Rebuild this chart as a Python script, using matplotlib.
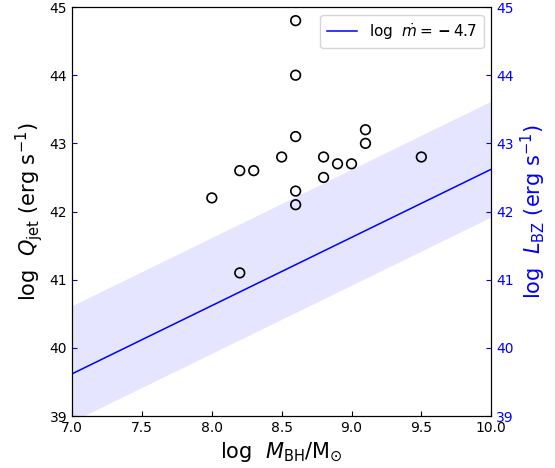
import numpy as np
import matplotlib
matplotlib.use("Agg")
import matplotlib.pyplot as plt

# ── data ────────────────────────────────────────────────────────────────────
log_mbh = [8.0, 8.2, 8.2, 8.3, 8.5, 8.6, 8.6, 8.6, 8.6, 8.6,
           8.8, 8.8, 8.9, 9.0, 9.1, 9.1, 9.5]
log_qjet = [42.2, 42.6, 41.1, 42.6, 42.8, 44.8, 44.0, 43.1, 42.3, 42.1,
            42.8, 42.5, 42.7, 42.7, 43.2, 43.0, 42.8]

# BZ power line for log mdot = -4.7 and its band
line_x = [7.0, 10.0]
line_y = [39.62, 42.62]
band_lo = [38.92, 41.92]
band_hi = [40.62, 43.62]

fig = plt.figure(figsize=(5.55, 4.68), dpi=100)
ax = fig.add_axes([0.130, 0.111, 0.755, 0.874])

ax.fill_between(line_x, band_lo, band_hi, color="blue", alpha=0.1, lw=0)
ax.plot(line_x, line_y, color="blue", lw=1.1,
        label=r"log  $\dot{m}=\,\mathbf{-}\,4.7$")
ax.scatter(log_mbh, log_qjet, s=48, facecolors="none", edgecolors="black",
           linewidths=1.2, zorder=3)

ax.set_xlim(7.0, 10.0)
ax.set_ylim(39, 45)
ax.set_xticks(np.arange(7.0, 10.01, 0.5))
ax.set_xticklabels([f"{v:.1f}" for v in np.arange(7.0, 10.01, 0.5)])
ax.tick_params(axis="x", direction="in", labelsize=10)
ax.tick_params(axis="y", direction="in", color="blue", labelsize=10)
ax.set_xlabel(r"log  $M_{\rm BH}/{\rm M}_{\odot}$", fontsize=15)
ax.set_ylabel(r"log  $Q_{\rm jet}$ (erg s$^{-1}$)", fontsize=15, labelpad=3)

ax2 = ax.twinx()
ax2.set_ylim(39, 45)
ax2.tick_params(axis="y", direction="in", colors="blue", labelsize=10)
ax2.set_ylabel(r"log  $L_{\rm BZ}$ (erg s$^{-1}$)", fontsize=15, color="blue")

ax.legend(loc="upper right", fontsize=11)

fig.savefig("out.png", dpi=100)
